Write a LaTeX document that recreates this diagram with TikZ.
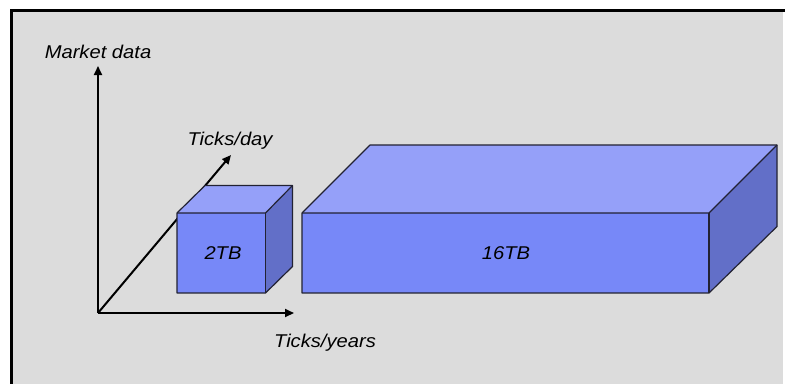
\documentclass[tikz,border=0pt]{standalone}
\usepackage{fontspec}
\setmainfont{Liberation Sans}
\usetikzlibrary{arrows.meta}
\newfontfamily\lblfont[FakeStretch=1.09]{Liberation Sans}
\definecolor{bgrey}{HTML}{DCDCDC}
\definecolor{frontc}{HTML}{7788F8}
\definecolor{topc}{HTML}{95A0F9}
\definecolor{sidec}{HTML}{626FC8}
\definecolor{edgec}{HTML}{222233}
\tikzset{
  lbl/.style={font=\lblfont\itshape\fontsize{18.5}{20}\selectfont, inner sep=0pt, text=black},
  axis/.style={line width=2pt, draw=black, -{Triangle[length=9pt,width=8pt]}},
  face/.style={draw=edgec, line width=1.2pt, line join=round}
}
\begin{document}
\begin{tikzpicture}[x=1pt,y=-1pt]
\useasboundingbox (0,0) rectangle (785,384);
% background panel
\fill[bgrey] (10,9) rectangle (783,384);
\draw[line width=3pt] (10,10.5) -- (785,10.5);
\draw[line width=3pt] (11.5,9) -- (11.5,384);

% axes
\coordinate (o) at (98,313);
\coordinate (ytip) at (98,66);
\coordinate (xtip) at (294,313);
\coordinate (dtip) at (231,155);

% depth axis (behind the small cube)
\draw[axis] (o) -- (dtip);

% small cube (2TB)
\fill[topc] (177,213) -- (205,185.5) -- (292.5,185.5) -- (265.5,213) -- cycle;
\fill[sidec] (265.5,213) -- (292.5,185.5) -- (292.5,266.5) -- (265.5,293) -- cycle;
\fill[frontc] (177,213) rectangle (265.5,293);
\draw[face] (177,213) -- (205,185.5) -- (292.5,185.5) -- (292.5,266.5) -- (265.5,293) -- (177,293) -- cycle;
\draw[face] (177,213) -- (265.5,213) -- (292.5,185.5);
\draw[face] (265.5,213) -- (265.5,293);
\node[lbl] (small) at (223,253) {2TB};

% large box (16TB)
\fill[topc] (302,213) -- (370,145) -- (777,145) -- (709,213) -- cycle;
\fill[sidec] (709,213) -- (777,145) -- (777,226.5) -- (709,293) -- cycle;
\fill[frontc] (302,213) rectangle (709,293);
\draw[face] (302,213) -- (370,145) -- (777,145) -- (777,226.5) -- (709,293) -- (302,293) -- cycle;
\draw[face] (302,213) -- (709,213) -- (777,145);
\draw[face] (709,213) -- (709,293);
\node[lbl] (big) at (506,253) {16TB};

\draw[axis] (o) -- (ytip);
\draw[axis] (o) -- (xtip);

\node[lbl] (mkt) at (98,52) {Market data};
\node[lbl] (tday) at (230,141) {Ticks/day};
\node[lbl] (tyr) at (325,343) {Ticks/years};
\end{tikzpicture}
\end{document}
